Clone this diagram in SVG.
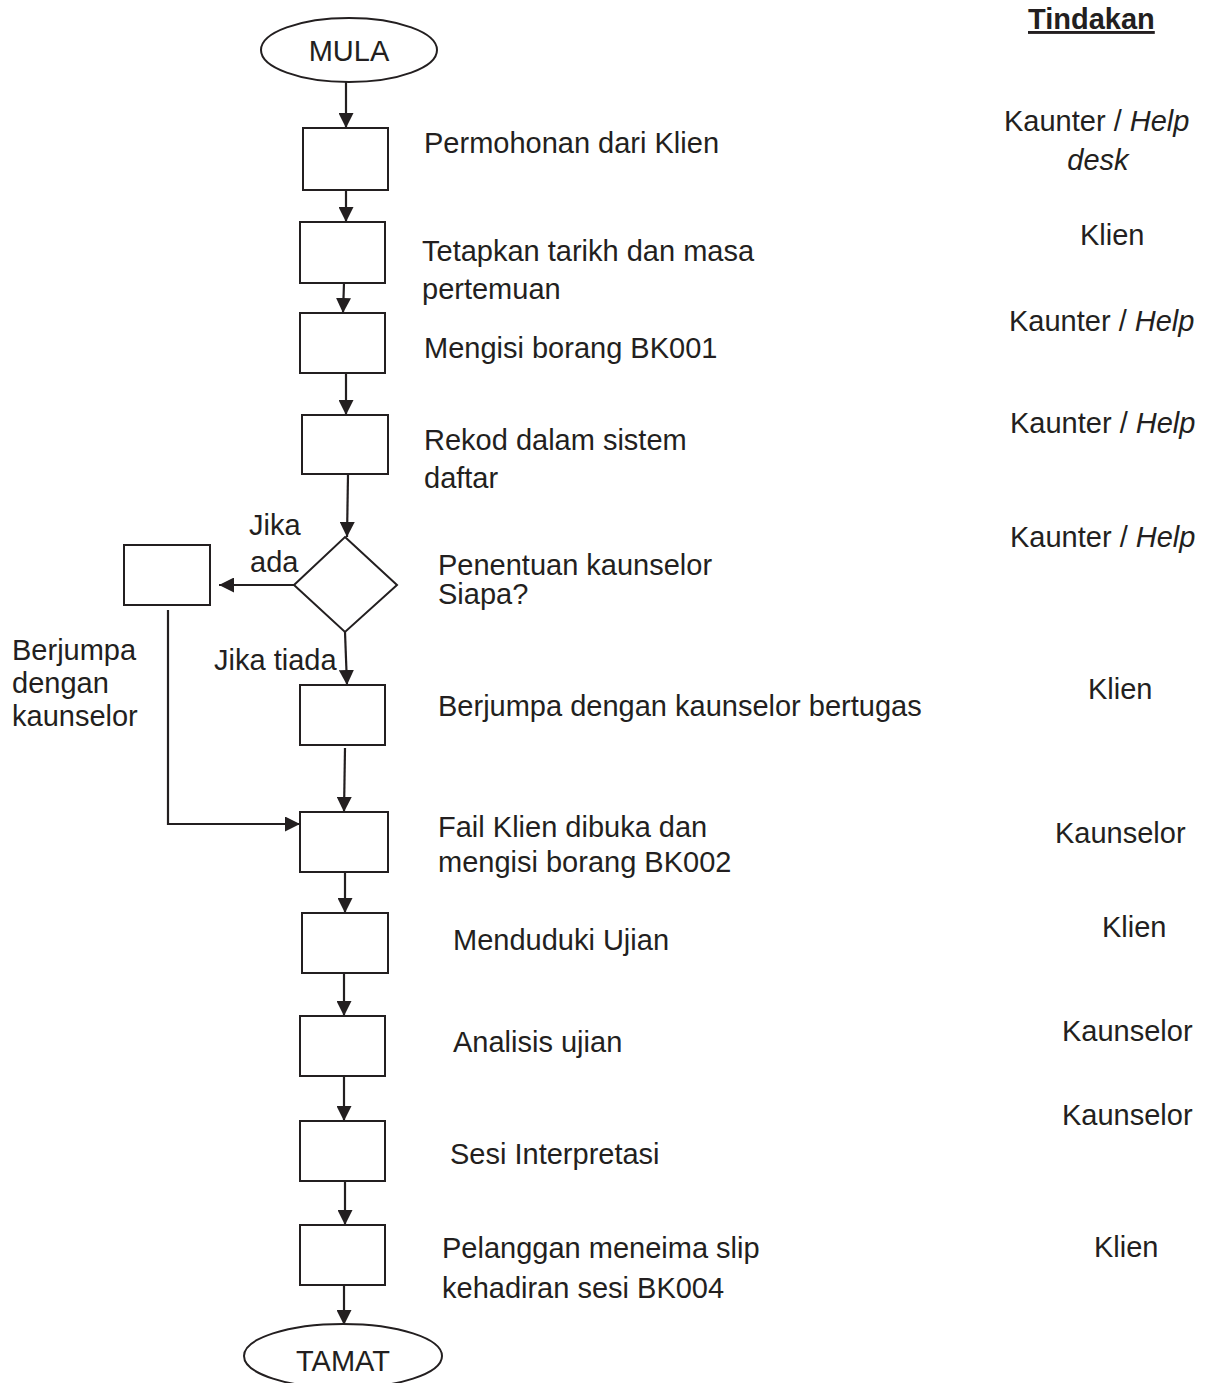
<svg xmlns="http://www.w3.org/2000/svg" width="1207" height="1383" viewBox="0 0 1207 1383">
<style>
text{font-family:"Liberation Sans",Arial,sans-serif;font-size:29px;fill:#231f20}
.s{fill:#fff;stroke:#231f20;stroke-width:2}
.c{fill:none;stroke:#231f20;stroke-width:2.2}
.m{text-anchor:middle}
.i{font-style:italic}
</style>
<defs>
<marker id="ah" viewBox="0 0 15 15" refX="15" refY="7.5" markerWidth="15" markerHeight="15" markerUnits="userSpaceOnUse" orient="auto">
<path d="M0,0 L15,7.5 L0,15 z" fill="#231f20"/>
</marker>
<clipPath id="clipSiapa"><rect x="430" y="540" width="400" height="70"/></clipPath>
</defs>
<rect width="1207" height="1383" fill="#fff"/>
<g id="connectors">
<path class="c" d="M346,82 L346,128" marker-end="url(#ah)"/>
<path class="c" d="M346,190 L346,222" marker-end="url(#ah)"/>
<path class="c" d="M344,283 L343,313" marker-end="url(#ah)"/>
<path class="c" d="M346,373 L346,415" marker-end="url(#ah)"/>
<path class="c" d="M348,475 L347,537" marker-end="url(#ah)"/>
<path class="c" d="M294,585 L219,585" marker-end="url(#ah)"/>
<path class="c" d="M345,632 L347,685" marker-end="url(#ah)"/>
<path class="c" d="M345,748 L344,812" marker-end="url(#ah)"/>
<path class="c" d="M168,610 L168,824 L300,824" marker-end="url(#ah)"/>
<path class="c" d="M345,872 L345,913" marker-end="url(#ah)"/>
<path class="c" d="M344,973 L344,1016" marker-end="url(#ah)"/>
<path class="c" d="M344,1076 L344,1121" marker-end="url(#ah)"/>
<path class="c" d="M345,1181 L345,1225" marker-end="url(#ah)"/>
<path class="c" d="M344,1285 L344,1325" marker-end="url(#ah)"/>
</g>
<g id="mula"><ellipse class="s" cx="349" cy="50" rx="88" ry="32"/><text class="m" x="349" y="61">MULA</text></g>
<g id="n1"><rect class="s" x="303" y="128" width="85" height="62"/><text x="424" y="153">Permohonan dari Klien</text></g>
<g id="n2"><rect class="s" x="300" y="222" width="85" height="61"/><text x="422" y="261">Tetapkan tarikh dan masa</text><text x="422" y="299">pertemuan</text></g>
<g id="n3"><rect class="s" x="300" y="313" width="85" height="60"/><text x="424" y="358">Mengisi borang BK001</text></g>
<g id="n4"><rect class="s" x="302" y="415" width="86" height="59"/><text x="424" y="450">Rekod dalam sistem</text><text x="424" y="488">daftar</text></g>
<g id="d1"><path class="s" d="M345,537 L397,585 L345,632 L294,585 z"/><text x="438" y="575">Penentuan kaunselor</text><text x="438" y="604" clip-path="url(#clipSiapa)">Siapa?</text></g>
<g id="lbl-ada"><text x="249" y="535">Jika</text><text x="250" y="572">ada</text></g>
<g id="nL"><rect class="s" x="124" y="545" width="86" height="60"/></g>
<g id="lbl-berjumpa"><text x="12" y="660">Berjumpa</text><text x="12" y="693">dengan</text><text x="12" y="726">kaunselor</text></g>
<g id="lbl-tiada"><text x="214" y="670">Jika tiada</text></g>
<g id="n5"><rect class="s" x="300" y="685" width="85" height="60"/><text x="438" y="716">Berjumpa dengan kaunselor bertugas</text></g>
<g id="n6"><rect class="s" x="300" y="812" width="88" height="60"/><text x="438" y="837">Fail Klien dibuka dan</text><text x="438" y="872">mengisi borang BK002</text></g>
<g id="n7"><rect class="s" x="302" y="913" width="86" height="60"/><text x="453" y="950">Menduduki Ujian</text></g>
<g id="n8"><rect class="s" x="300" y="1016" width="85" height="60"/><text x="453" y="1052">Analisis ujian</text></g>
<g id="n9"><rect class="s" x="300" y="1121" width="85" height="60"/><text x="450" y="1164">Sesi Interpretasi</text></g>
<g id="n10"><rect class="s" x="300" y="1225" width="85" height="60"/><text x="442" y="1258">Pelanggan meneima slip</text><text x="442" y="1298">kehadiran sesi BK004</text></g>
<g id="tamat"><ellipse class="s" cx="343" cy="1356" rx="99" ry="32"/><text class="m" x="343" y="1371">TAMAT</text></g>
<g id="tindakan">
<text x="1028" y="29" font-weight="bold" text-decoration="underline">Tindakan</text>
<text x="1004" y="131">Kaunter / <tspan class="i">Help</tspan></text>
<text class="m i" x="1098" y="170">desk</text>
<text x="1080" y="245">Klien</text>
<text x="1009" y="331">Kaunter / <tspan class="i">Help</tspan></text>
<text x="1010" y="433">Kaunter / <tspan class="i">Help</tspan></text>
<text x="1010" y="547">Kaunter / <tspan class="i">Help</tspan></text>
<text x="1088" y="699">Klien</text>
<text x="1055" y="843">Kaunselor</text>
<text x="1102" y="937">Klien</text>
<text x="1062" y="1041">Kaunselor</text>
<text x="1062" y="1125">Kaunselor</text>
<text x="1094" y="1257">Klien</text>
</g>
</svg>
